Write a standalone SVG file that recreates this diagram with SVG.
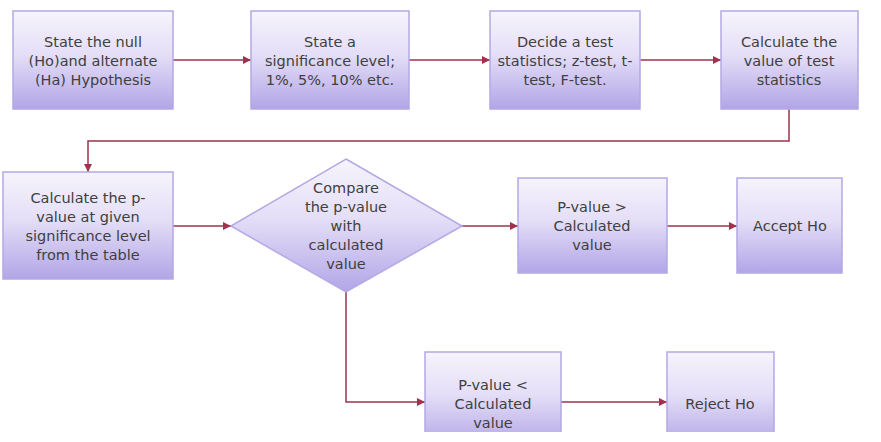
<svg xmlns="http://www.w3.org/2000/svg" width="881" height="442" viewBox="0 0 881 442">
<defs>
<linearGradient id="g" x1="0" y1="0" x2="0" y2="1">
<stop offset="0" stop-color="#f6f4fc"/>
<stop offset="0.45" stop-color="#e4def7"/>
<stop offset="1" stop-color="#b2a5e7"/>
</linearGradient>
<marker id="a" viewBox="0 0 10 10" refX="10" refY="5" markerWidth="8" markerHeight="8" markerUnits="userSpaceOnUse" orient="auto">
<path d="M0,0 L10,5 L0,10 z" fill="#a0324e"/>
</marker>
<clipPath id="cut"><rect x="0" y="0" width="881" height="432"/></clipPath>
</defs>
<style>
.n{fill:url(#g);stroke:#b4a9e3;stroke-width:1.5}
.t{font-family:"DejaVu Sans","Liberation Sans",sans-serif;font-size:14.5px;fill:#404040;text-anchor:middle}
.c{fill:none;stroke:#a0324e;stroke-width:1.5;marker-end:url(#a)}
</style>
<rect width="881" height="442" fill="#ffffff"/>
<g id="connectors">
<path class="c" d="M173,60 H251"/>
<path class="c" d="M409,60 H490"/>
<path class="c" d="M640,60 H721"/>
<path class="c" d="M789,109 V141 H88 V172"/>
<path class="c" d="M173,226 H231"/>
<path class="c" d="M462,226 H518"/>
<path class="c" d="M667,226 H737"/>
<path class="c" d="M346,292 V402 H425"/>
<path class="c" d="M561,402 H667"/>
</g>
<g id="n1"><rect class="n" x="13" y="11" width="160" height="98"/>
<text class="t"><tspan x="93" y="47">State the null</tspan><tspan x="93" y="66">(Ho)and alternate</tspan><tspan x="93" y="85">(Ha) Hypothesis</tspan></text></g>
<g id="n2"><rect class="n" x="251" y="11" width="158" height="98"/>
<text class="t"><tspan x="330" y="47">State a</tspan><tspan x="330" y="66">significance level;</tspan><tspan x="330" y="85">1%, 5%, 10% etc.</tspan></text></g>
<g id="n3"><rect class="n" x="490" y="11" width="150" height="98"/>
<text class="t"><tspan x="565" y="47">Decide a test</tspan><tspan x="565" y="66">statistics; z-test, t-</tspan><tspan x="565" y="85">test, F-test.</tspan></text></g>
<g id="n4"><rect class="n" x="721" y="11" width="137" height="98"/>
<text class="t"><tspan x="789" y="47">Calculate the</tspan><tspan x="789" y="66">value of test</tspan><tspan x="789" y="85">statistics</tspan></text></g>
<g id="n5"><rect class="n" x="3" y="172" width="170" height="107"/>
<text class="t"><tspan x="88" y="203">Calculate the p-</tspan><tspan x="88" y="222">value at given</tspan><tspan x="88" y="241">significance level</tspan><tspan x="88" y="260">from the table</tspan></text></g>
<g id="n6"><polygon class="n" points="346,159 462,226 346,292 231,226"/>
<text class="t"><tspan x="346" y="193">Compare</tspan><tspan x="346" y="212">the p-value</tspan><tspan x="346" y="231">with</tspan><tspan x="346" y="250">calculated</tspan><tspan x="346" y="269">value</tspan></text></g>
<g id="n7"><rect class="n" x="518" y="178" width="149" height="95"/>
<text class="t"><tspan x="592" y="212">P-value &gt;</tspan><tspan x="592" y="231">Calculated</tspan><tspan x="592" y="250">value</tspan></text></g>
<g id="n8"><rect class="n" x="737" y="178" width="105" height="95"/>
<text class="t"><tspan x="790" y="231">Accept Ho</tspan></text></g>
<g id="n9" clip-path="url(#cut)"><rect class="n" x="425" y="352" width="136" height="95"/>
<text class="t"><tspan x="493" y="390">P-value &lt;</tspan><tspan x="493" y="409">Calculated</tspan><tspan x="493" y="428">value</tspan></text></g>
<g id="n10" clip-path="url(#cut)"><rect class="n" x="667" y="352" width="107" height="95"/>
<text class="t"><tspan x="720" y="409">Reject Ho</tspan></text></g>
</svg>
